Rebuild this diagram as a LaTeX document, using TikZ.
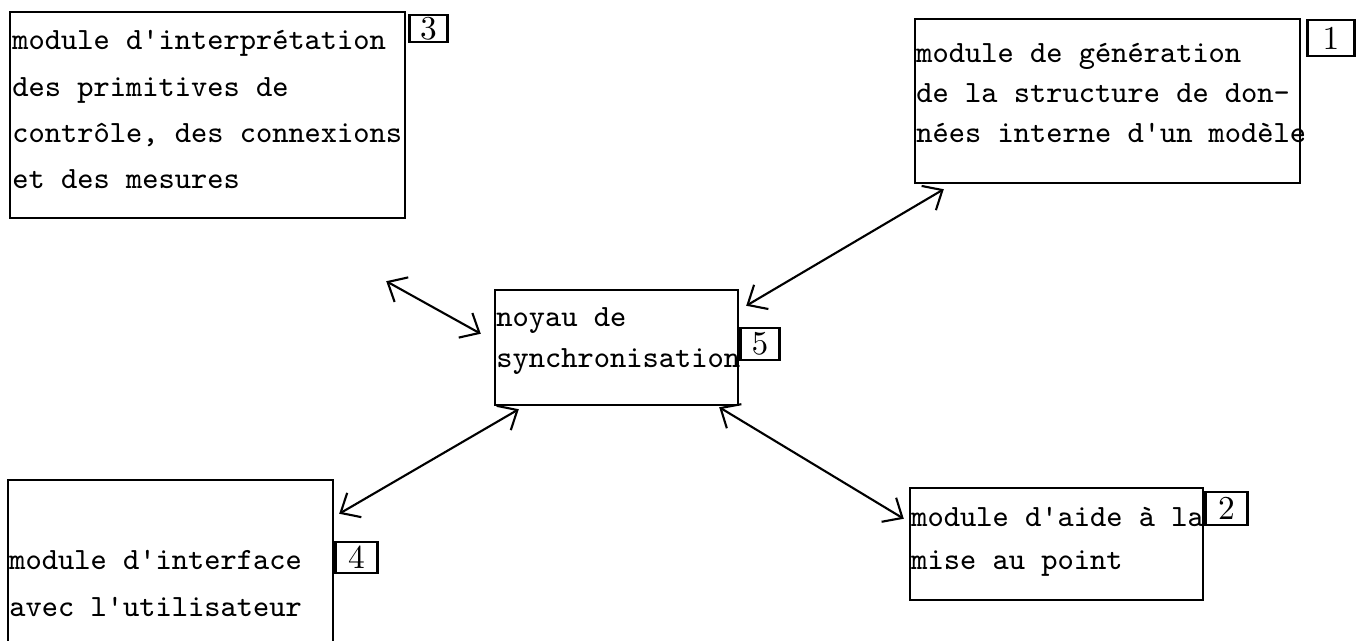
\documentclass[tikz,border=0pt]{standalone}
\usetikzlibrary{positioning,arrows.meta}
\newcommand{\apos}{\textquotesingle}

\begin{document}
\begin{tikzpicture}[
    modbox/.style={draw, line width=0.7pt, inner sep=0pt},
    modtext/.style={font=\ttfamily\fontsize{8.8pt}{#1}\selectfont, align=left, inner sep=0pt},
    tag/.style={draw, line width=0.7pt, inner sep=0pt, font=\fontsize{9.5pt}{10pt}\selectfont},
    link/.style={{Straight Barb[length=4.5pt,width=8pt]}-{Straight Barb[length=4.5pt,width=8pt]}, line width=0.6pt}
]
\useasboundingbox (0,0) rectangle (13.61,6.41);

    % boxes
\node[modbox, minimum width=3.95cm, minimum height=2.06cm] (interp) at (2.075,5.26) {};
\node[modbox, minimum width=3.85cm, minimum height=1.64cm] (gen) at (11.075,5.40) {};
\node[modbox, minimum width=2.43cm, minimum height=1.15cm] (core) at (6.165,2.935) {};
\node[modbox, minimum width=3.25cm, minimum height=1.71cm] (iface) at (1.705,0.755) {};
\node[modbox, minimum width=2.93cm, minimum height=1.12cm] (debug) at (10.565,0.97) {};

    % texts
\node[modtext=13.2pt, below right=0.19cm and 0.03cm of interp.north west] (interptext)
    {module d\apos interprétation\\des primitives de\\contrôle, des connexions\\et des mesures};
\node[modtext=11.4pt, below right=0.25cm and 0.02cm of gen.north west] (gentext)
    {module de génération\\de la structure de don-\\nées interne d\apos un modèle};
\node[modtext=11.7pt, below right=0.18cm and 0.02cm of core.north west] (coretext)
    {noyau de\\synchronisation};
\node[modtext=13.4pt, below right=0.71cm and 0.02cm of iface.north west] (ifacetext)
    {module d\apos interface\\avec l\apos utilisateur};
\node[modtext=12.2pt, below right=0.20cm and 0.02cm of debug.north west] (debugtext)
    {module d\apos aide à la\\mise au point};

    % numbers
\node[tag, minimum width=0.38cm, minimum height=0.27cm, below right=0.03cm and 0.02cm of interp.north east] (tag3) {3};
\node[tag, minimum width=0.47cm, minimum height=0.36cm, below right=0.01cm and 0.05cm of gen.north east] (tag1) {1};
\node[tag, minimum width=0.39cm, minimum height=0.32cm, below right=0.38cm and 0cm of core.north east] (tag5) {5};
\node[tag, minimum width=0.42cm, minimum height=0.31cm, below right=0.62cm and 0cm of iface.north east] (tag4) {4};
\node[tag, minimum width=0.42cm, minimum height=0.33cm, below right=0.04cm and 0cm of debug.north east] (tag2) {2};

    % links
\draw[link] ([shift={(-0.20,-0.62)}]interp.south east) -- ([shift={(-0.13,-0.45)}]core.north west);
\draw[link] ([shift={(0.30,-0.05)}]gen.south west) -- ([shift={(0.07,-0.17)}]core.north east);
\draw[link] ([shift={(0.05,-0.35)}]iface.north east) -- ([shift={(0.25,-0.03)}]core.south west);
\draw[link] ([shift={(-0.05,-0.32)}]debug.north west) -- ([shift={(-0.20,-0.01)}]core.south east);

\end{tikzpicture}
\end{document}
